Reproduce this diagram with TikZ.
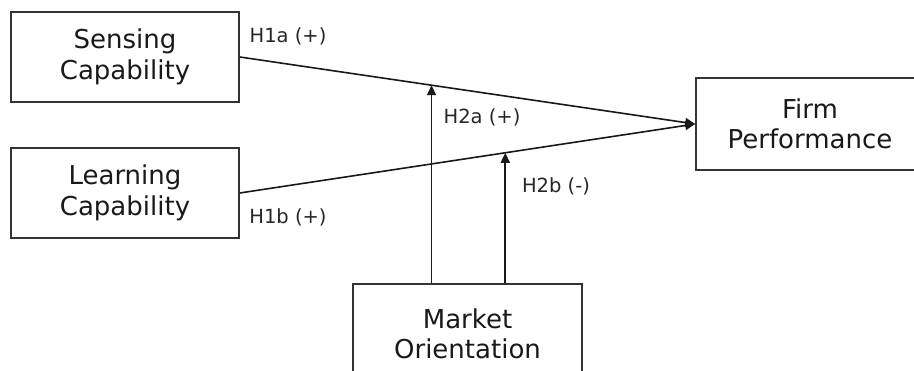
\documentclass[tikz,border=0pt]{standalone}
\usepackage{fontspec}
\setmainfont{DejaVu Sans}
\usetikzlibrary{calc,arrows.meta}
\begin{document}
\begin{tikzpicture}[x=1pt,y=-1pt,
  box/.style={draw=black!80,line width=1.6pt,rectangle,minimum width=228pt,minimum height=90pt,align=center,font=\fontsize{26}{30.5}\selectfont,inner sep=0pt,text=black!90},
  lbl/.style={font=\fontsize{19.5}{22}\selectfont,inner sep=0pt,text=black!85},
  conn/.style={line width=1.6pt,black!90,-{Triangle[length=10pt,width=9pt]}}]
\useasboundingbox (0,0) rectangle (914,371);
\node[box] (S) at (125,57) {Sensing\\Capability};
\node[box] (L) at (125,193) {Learning\\Capability};
\node[box,minimum height=92pt] (F) at (810,124) {Firm\\Performance};
\node[box,minimum width=229pt,minimum height=100pt] (M) at (467.5,334) {Market\\Orientation};
\draw[conn] (S.east) -- (F.west);
\draw[conn] (L.east) -- (F.west);
\coordinate (a1) at ($(S.east)!0.421!(F.west)$);
\coordinate (a2) at ($(L.east)!0.583!(F.west)$);
\draw[conn] (M.north -| a1) -- (a1);
\draw[conn] (M.north -| a2) -- (a2);
\node[lbl] (h1a) at (288,36) {H1a (+)};
\node[lbl] (h1b) at (288,217) {H1b (+)};
\node[lbl] (h2a) at (482,117) {H2a (+)};
\node[lbl] (h2b) at (556,186) {H2b (-)};
\end{tikzpicture}
\end{document}
